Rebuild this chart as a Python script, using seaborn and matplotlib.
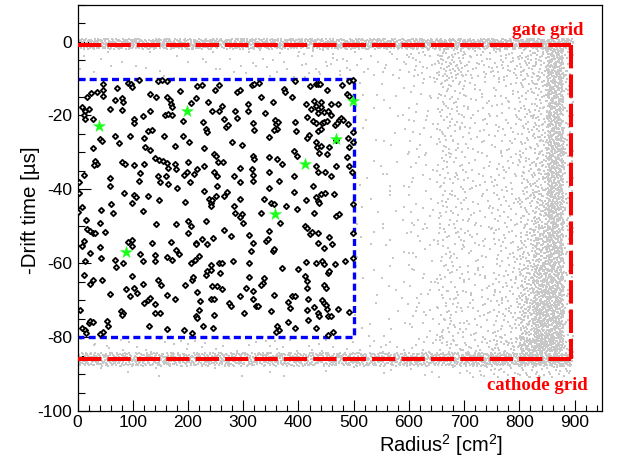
import matplotlib
matplotlib.use("Agg")
import matplotlib.pyplot as plt
import numpy as np
import pandas as pd
import seaborn as sns

sns.set_theme(style="white")
plt.rcParams["font.family"] = ["Liberation Sans", "DejaVu Sans"]
plt.rcParams["axes.unicode_minus"] = False
plt.rcParams["mathtext.fontset"] = "custom"
plt.rcParams["mathtext.rm"] = "Liberation Sans"
plt.rcParams["mathtext.default"] = "regular"

# ---------------------------------------------------------------- data
# Selected events inside the fiducial volume: (radius^2 [cm^2], -drift time [us])
sel_points = [
    (47, -11.5), (71, -12.6), (91, -11.1), (97, -11.4), (99, -12.4), (112, -10.5), (145, -10.8),
    (153, -10.5), (162, -10.6), (186, -13.5), (217, -11.9), (18, -15.1), (24, -14.0), (35, -13.7),
    (46, -14.8), (47, -13.2), (68, -15.7), (80, -15.3), (83, -16.4), (80, -18.5), (58, -18.2),
    (132, -14.1), (143, -15.1), (162, -14.9), (167, -15.9), (169, -16.9), (171, -17.8), (159, -19.8),
    (164, -19.6), (171, -20.0), (205, -16.6), (214, -15.3), (191, -21.5), (8, -17.8), (14, -18.7),
    (20, -18.2), (12, -20.0), (14, -20.9), (28, -20.9), (102, -20.9), (103, -22.0), (119, -20.2),
    (132, -18.9), (127, -24.1), (135, -23.9), (156, -25.5), (68, -25.6), (76, -27.5), (95, -25.5),
    (121, -26.1), (41, -26.4), (45, -27.0), (28, -28.9), (123, -28.6), (131, -29.3), (177, -28.2),
    (191, -25.5), (202, -27.1), (32, -32.3), (35, -33.2), (30, -33.4), (80, -32.7), (86, -33.2),
    (102, -33.4), (120, -33.2), (141, -31.6), (147, -32.0), (155, -32.3), (162, -32.9), (163, -34.2),
    (176, -33.2), (179, -34.5), (200, -32.5), (192, -36.1), (199, -35.4), (217, -34.5), (211, -35.9),
    (12, -36.1), (59, -36.8), (114, -35.7), (145, -36.3), (161, -36.5),
    (226, -11.7), (248, -13.2), (257, -11.7), (289, -13.7), (294, -13.0), (315, -11.7), (320, -11.4),
    (329, -11.1), (374, -12.8), (376, -13.7), (394, -10.8), (421, -11.9), (432, -11.4), (436, -11.6),
    (439, -11.4), (452, -13.0), (478, -11.7), (492, -10.8), (498, -10.5), (236, -16.4), (244, -18.9),
    (257, -18.7), (262, -17.3), (285, -18.9), (288, -20.7), (308, -16.9), (309, -18.8), (333, -14.9),
    (339, -19.4), (353, -16.4), (389, -15.0), (414, -16.9), (423, -18.2), (429, -16.2), (432, -17.3),
    (435, -18.2), (436, -19.3), (440, -16.4), (441, -17.8), (447, -19.1), (453, -18.8), (458, -16.9),
    (471, -16.9), (473, -21.2), (477, -20.7), (481, -21.2), (487, -14.1), (491, -14.8), (228, -21.8),
    (232, -23.6), (234, -24.6), (266, -20.9), (268, -23.2), (272, -22.7), (317, -22.0), (320, -23.8),
    (357, -21.1), (359, -22.3), (361, -23.6), (355, -23.8), (363, -21.8), (394, -21.8), (395, -24.1),
    (415, -20.5), (419, -25.3), (426, -21.4), (432, -22.0), (435, -24.1), (440, -23.6), (443, -22.1),
    (447, -21.7), (452, -21.4), (459, -20.0), (466, -22.7), (470, -22.0), (489, -22.3), (498, -24.5),
    (229, -28.9), (247, -30.4), (250, -30.9), (254, -32.7), (264, -32.7), (280, -27.1), (298, -28.0),
    (318, -30.9), (320, -31.8), (347, -25.7), (347, -31.3), (362, -31.8), (371, -33.2), (392, -29.5),
    (397, -30.9), (415, -26.2), (432, -27.3), (434, -28.6), (438, -30.2), (441, -28.2), (452, -30.4),
    (456, -28.4), (468, -26.6), (489, -26.1), (492, -28.6), (488, -31.3), (499, -27.1), (229, -33.6),
    (247, -35.4), (252, -36.3), (283, -36.3), (294, -34.3), (315, -34.5), (317, -36.1), (347, -35.4),
    (392, -36.5), (432, -33.8), (435, -35.2), (448, -35.4), (459, -36.3), (468, -33.6), (491, -33.6),
    (497, -35.4),
    (3, -38.0), (3, -41.0), (58, -39.0), (85, -41.0), (102, -41.6), (105, -42.2), (99, -43.8),
    (112, -37.7), (127, -41.8), (147, -42.8), (150, -37.9), (164, -38.6), (180, -39.5), (194, -43.4),
    (203, -38.1), (1, -46.1), (9, -44.7), (42, -45.6), (60, -43.9), (64, -46.5), (119, -45.8),
    (143, -49.5), (179, -49.5), (200, -48.6), (206, -49.9), (200, -51.7), (214, -54.4), (215, -54.9),
    (15, -48.3), (18, -50.6), (22, -51.3), (28, -51.9), (32, -51.7), (40, -49.0), (50, -51.5),
    (12, -54.0), (8, -55.2), (23, -57.3), (41, -55.5), (42, -58.5), (91, -54.3), (99, -53.8),
    (99, -55.4), (114, -57.6), (119, -59.4), (135, -54.6), (141, -57.9), (141, -59.4), (162, -58.2),
    (169, -54.3), (171, -59.2), (179, -56.4), (183, -57.6), (206, -59.9), (212, -59.2), (220, -58.1),
    (14, -59.4), (11, -63.3), (22, -65.5), (28, -64.6), (44, -64.4), (59, -68.2), (67, -59.2),
    (69, -61.0), (83, -59.9), (99, -63.5), (88, -67.1), (95, -68.9), (102, -66.7), (108, -68.0),
    (119, -65.6), (121, -70.8), (127, -70.0), (132, -69.4), (140, -70.9), (145, -64.4), (152, -65.8),
    (141, -73.5), (149, -73.5), (162, -68.5), (176, -69.6), (195, -65.8), (208, -64.4), (209, -63.7),
    (217, -67.7), (222, -70.1), (220, -72.6), (5, -72.6), (20, -76.2), (23, -75.7), (28, -76.0),
    (79, -72.8), (83, -73.5), (80, -73.9), (54, -75.7), (56, -77.1), (47, -78.5), (41, -79.2),
    (9, -77.5), (14, -78.2), (15, -78.9), (129, -77.1), (162, -77.8), (192, -78.0), (214, -74.4),
    (217, -74.8), (208, -78.9),
    (229, -40.4), (238, -42.7), (241, -43.6), (244, -42.8), (241, -44.5), (252, -39.0), (250, -41.8),
    (265, -41.8), (270, -40.7), (294, -38.1), (294, -42.5), (283, -44.5), (286, -46.3), (298, -46.7),
    (295, -47.6), (300, -49.2), (317, -37.7), (332, -46.3), (338, -42.7), (347, -39.5), (350, -43.6),
    (355, -44.0), (365, -37.7), (367, -49.0), (377, -44.5), (398, -45.4), (392, -40.7), (414, -42.8),
    (426, -39.0), (429, -46.3), (432, -42.2), (435, -43.1), (438, -43.6), (441, -41.3), (448, -41.0),
    (465, -41.3), (468, -47.2), (474, -46.7), (498, -44.0), (232, -48.6), (235, -54.9), (226, -53.5),
    (246, -53.1), (265, -51.0), (278, -52.6), (311, -52.4), (317, -54.6), (314, -56.7), (341, -54.0),
    (345, -53.4), (347, -51.3), (353, -56.7), (356, -56.1), (411, -49.9), (415, -50.4), (420, -52.2),
    (424, -51.5), (435, -51.7), (435, -54.4), (446, -55.8), (456, -52.8), (461, -54.9), (498, -51.7),
    (232, -63.1), (235, -62.1), (241, -60.6), (242, -61.7), (256, -59.9), (262, -59.9), (258, -62.6),
    (282, -59.4), (311, -59.9), (311, -63.7), (338, -64.1), (335, -65.3), (332, -66.0), (305, -66.7),
    (318, -67.6), (370, -61.2), (400, -61.5), (414, -59.7), (412, -63.5), (415, -64.9), (432, -59.9),
    (442, -59.4), (446, -60.1), (453, -62.6), (456, -62.1), (447, -65.8), (450, -66.7), (466, -60.3),
    (485, -59.4), (499, -58.5), (244, -66.2), (252, -66.2), (262, -67.1), (241, -69.7), (247, -69.7),
    (274, -70.8), (278, -71.7), (294, -68.9), (318, -69.7), (323, -71.7), (355, -68.5), (351, -73.0),
    (381, -70.6), (385, -72.1), (388, -68.9), (394, -68.9), (415, -66.7), (417, -69.7), (415, -72.6),
    (429, -71.8), (435, -73.5), (438, -74.2), (442, -70.0), (446, -70.8), (450, -71.2), (452, -72.4),
    (453, -74.4), (458, -74.4), (472, -72.4), (492, -73.3), (247, -73.9), (228, -77.1), (246, -77.5),
    (301, -73.5), (326, -71.7), (362, -77.1), (365, -78.0), (359, -78.5), (381, -76.0), (394, -77.5),
    (417, -75.3), (432, -77.5), (453, -79.4), (462, -78.5),
]

# Tagged events (green stars)
tag_r2 = [39, 199, 87, 358, 412, 468, 498]
tag_t = [-22.8, -18.9, -57.0, -46.8, -33.2, -26.4, -16.1]

# All other events (grey), given as event counts per (radius^2, drift) zone
out_r2_edges = [500, 550, 600, 650, 675, 700, 750, 800, 825, 850, 880, 897]
out_t_edges = [-2, -10, -20, -30, -40, -50, -60, -70, -80, -84]
out_counts = [
    [8, 12, 22, 30, 30, 30, 35, 28, 30, 130, 15],
    [4, 6, 12, 22, 18, 20, 24, 22, 32, 150, 15],
    [4, 6, 12, 20, 16, 20, 24, 22, 34, 150, 15],
    [4, 6, 12, 18, 14, 20, 25, 25, 42, 150, 15],
    [4, 6, 12, 16, 14, 20, 28, 28, 55, 160, 15],
    [4, 6, 12, 16, 14, 20, 30, 35, 75, 160, 15],
    [4, 6, 12, 16, 14, 22, 34, 50, 110, 170, 15],
    [5, 6, 14, 18, 16, 24, 38, 65, 140, 170, 15],
    [4, 5, 8, 8, 8, 15, 30, 50, 70, 80, 8],
]
in_r2_edges = [0, 100, 200, 300, 400, 500]
in_above_counts = [8, 8, 10, 15, 25]      # -2 .. -10 us
in_below_counts = [8, 8, 8, 10, 10]       # -80 .. -84 us
band_r2_edges = [0, 100, 200, 300, 400, 500, 600, 700, 800, 897]
gate_band_counts = [150, 150, 150, 150, 150, 150, 160, 170, 180]     # +0.8 .. -2.0 us
cathode_band_counts = [150, 150, 150, 150, 150, 150, 160, 190, 220]  # -84.2 .. -87.8 us
cathode_tail_counts = [2, 2, 2, 2, 2, 3, 6, 20, 30]                  # -87.8 .. -91 us

# Detector boundaries
GATE_T, CATHODE_T, WALL_R2 = -1.0, -86.0, 894.0
FID_R2, FID_T_TOP, FID_T_BOT = 500.0, -10.0, -80.0


def radical_inverse(i, base):
    """Van der Corput radical inverse of integer array i in the given base."""
    i = np.asarray(i, dtype=np.int64).copy()
    out = np.zeros(i.shape, dtype=float)
    f = 1.0 / base
    while np.any(i > 0):
        out += f * (i % base)
        i //= base
        f /= base
    return out


# ---------------------------------------------------------------- grey zones -> points
zones = []
for j in range(len(out_t_edges) - 1):
    for i in range(len(out_r2_edges) - 1):
        zones.append((out_r2_edges[i], out_r2_edges[i + 1], out_t_edges[j], out_t_edges[j + 1], out_counts[j][i]))
for i in range(len(in_r2_edges) - 1):
    zones.append((in_r2_edges[i], in_r2_edges[i + 1], -2.0, -10.0, in_above_counts[i]))
    zones.append((in_r2_edges[i], in_r2_edges[i + 1], -80.0, -84.0, in_below_counts[i]))
for i in range(len(band_r2_edges) - 1):
    zones.append((band_r2_edges[i], band_r2_edges[i + 1], 0.8, -2.0, gate_band_counts[i]))
    zones.append((band_r2_edges[i], band_r2_edges[i + 1], -84.2, -87.8, cathode_band_counts[i]))
    zones.append((band_r2_edges[i], band_r2_edges[i + 1], -87.8, -91.0, cathode_tail_counts[i]))

gx, gy = [], []
for k, (r_lo, r_hi, t_hi, t_lo, n) in enumerate(zones):
    idx = np.arange(1, n + 1) + 7 * k
    u = (radical_inverse(idx, 2) + (k * 0.6180339887) % 1.0) % 1.0
    v = (radical_inverse(idx, 3) + (k * 0.4142135624) % 1.0) % 1.0
    gx.append(r_lo + u * (r_hi - r_lo))
    gy.append(t_lo + v * (t_hi - t_lo))
grey = pd.DataFrame({"r2": np.concatenate(gx), "t": np.concatenate(gy)})
sel = pd.DataFrame(sel_points, columns=["r2", "t"])
tag = pd.DataFrame({"r2": tag_r2, "t": tag_t})

# ---------------------------------------------------------------- figure
fig = plt.figure(figsize=(6.23, 4.66), dpi=100)
ax = fig.add_axes([0.1244, 0.118, 0.8424, 0.872])
ax.set_facecolor("white")

sns.scatterplot(data=grey, x="r2", y="t", ax=ax, color="#c8c8c8", marker="s",
                s=3.4, linewidth=0, legend=False, zorder=1)

# fiducial box (blue) and grid / wall boundaries (red)
ax.plot([0, FID_R2, FID_R2, 0], [FID_T_TOP, FID_T_TOP, FID_T_BOT, FID_T_BOT],
        color="#0000ff", lw=2.4, dashes=(2.1, 1.25), solid_capstyle="butt",
        dash_capstyle="butt", zorder=2)
red_kw = dict(color="#ff0000", lw=2.9, dashes=(5.8, 1.5), dash_capstyle="butt", zorder=3)
ax.plot([0, WALL_R2], [GATE_T, GATE_T], **red_kw)
ax.plot([0, WALL_R2], [CATHODE_T, CATHODE_T], **red_kw)
ax.plot([WALL_R2, WALL_R2], [GATE_T, CATHODE_T], **red_kw)

sns.scatterplot(data=sel, x="r2", y="t", ax=ax, marker="D", s=7, color="white",
                edgecolor="black", linewidth=1.35, legend=False, zorder=4)
sns.scatterplot(data=tag, x="r2", y="t", ax=ax, marker="*", s=80, color="#1aff1a",
                edgecolor="#1aff1a", linewidth=0.3, legend=False, zorder=5)

ax.text(916, 1.9, "gate grid", ha="right", va="baseline", color="#ff0000",
        fontsize=13.5, fontweight="bold", family="Liberation Serif", zorder=6)
ax.text(923, -94.3, "cathode grid", ha="right", va="baseline", color="#ff0000",
        fontsize=13.5, fontweight="bold", family="Liberation Serif", zorder=6)

ax.set_xlim(0, 950)
ax.set_ylim(-100, 10)
ax.set_xticks(np.arange(0, 901, 100))
ax.set_xticks(np.arange(0, 951, 20), minor=True)
ax.set_yticks(np.arange(-100, 1, 20))
ax.set_yticks(np.arange(-100, 11, 5), minor=True)
ax.tick_params(which="both", direction="in", top=False, right=False,
               bottom=True, left=True, color="black", width=0.8, labelsize=12.5,
               labelcolor="black")
ax.tick_params(axis="x", which="major", length=8, pad=3)
ax.tick_params(axis="x", which="minor", length=4)
ax.tick_params(axis="y", which="major", length=9, pad=4)
ax.tick_params(axis="y", which="minor", length=4.7)
for sp in ax.spines.values():
    sp.set_color("black")
    sp.set_linewidth(0.9)
ax.set_xlabel("")
ax.set_ylabel("")
ax.grid(False)

fig.text(503 / 623, 1 - 452 / 466, "Radius$^{2}$ [cm$^{2}$]", ha="right", va="baseline",
         fontsize=14.5, color="black")
fig.text(30 / 623, 1 - 210 / 466, "-Drift time [\u00b5s]", ha="center", va="center",
         rotation=90, fontsize=14.8, color="black")

fig.savefig("out.png", dpi=100)
